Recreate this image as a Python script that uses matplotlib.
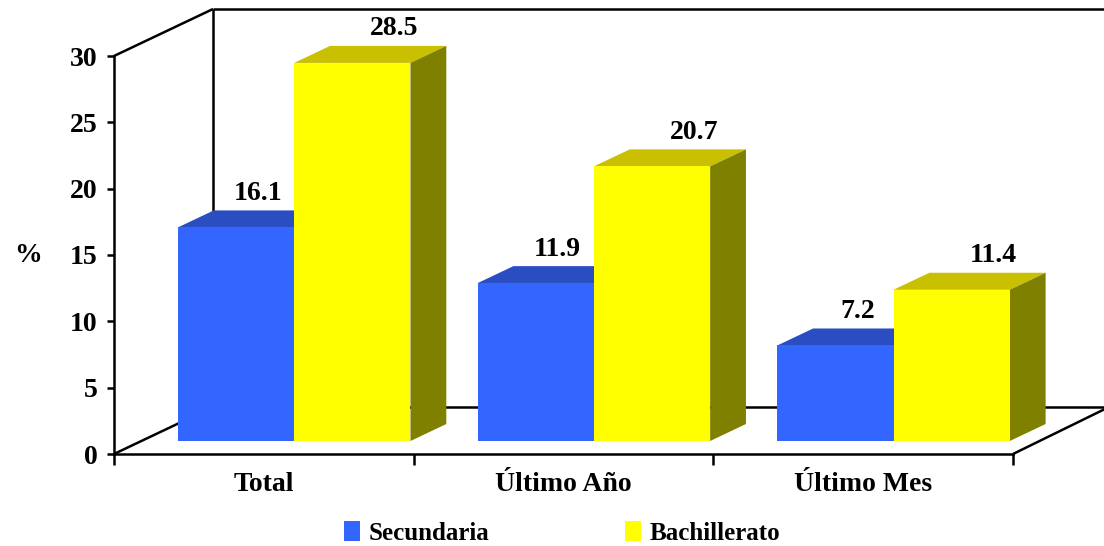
import matplotlib
matplotlib.use("Agg")
import matplotlib.pyplot as plt
from matplotlib.patches import Polygon, Patch
import numpy as np

categories = ["Total", "Último Año", "Último Mes"]
secundaria = [16.1, 11.9, 7.2]
bachillerato = [28.5, 20.7, 11.4]
series_names = ["Secundaria", "Bachillerato"]
yticks = [0, 5, 10, 15, 20, 25, 30]

W, H = 1104, 546
fig = plt.figure(figsize=(W / 100, H / 100), dpi=100)
plt.rcParams['font.family'] = ['Liberation Serif', 'DejaVu Serif']
plt.rcParams['font.weight'] = 'bold'

# axes region in pixels: x 114..1013, y 454 (0) .. 56 (30)
x0p, x1p, y0p, y1p = 114, 1013, 454, 56
ax = fig.add_axes([x0p / W, 1 - y0p / H, (x1p - x0p) / W, (y0p - y1p) / H])
ax.set_xlim(0, 3)
ax.set_ylim(0, 30)

# depth in data units
px_x = (x1p - x0p) / 3.0
px_y = (y0p - y1p) / 30.0
dx = 99 / px_x
dy = 47 / px_y

lw = 1.8
kw = dict(color="black", lw=lw, clip_on=False, zorder=1, solid_capstyle="butt")
# walls / floor
ax.plot([0, dx], [30, 30 + dy], **kw)
ax.plot([dx, 3 + dx + 0.2], [30 + dy, 30 + dy], **kw)
ax.plot([dx, dx], [dy, 30 + dy], **kw)
ax.plot([0, dx], [0, dy], **kw)
ax.plot([dx, 3 + dx - 0.01], [dy, dy], **kw)
ax.plot([3, 3 + dx - 0.01], [0, dy], **kw)

# bars
f0, f1 = 13 / 47, 30 / 47
sx0, sy0 = f0 * dx, f0 * dy
sx1, sy1 = f1 * dx, f1 * dy
bw = 0.388
colors = [("#3366FF", "#2A4EC2", "#1F3A90"), ("#FFFF00", "#C8C000", "#808000")]
label_dx = [22 / px_x, 42 / px_x]

for s, vals in enumerate([secundaria, bachillerato]):
    front, top, side = colors[s]
    for i, v in enumerate(vals):
        xl = i + 0.5 - bw + s * bw + 0.01
        xr = xl + bw
        z = 5 + i * 3 + s
        ax.add_patch(Polygon([(xl + sx0, v + sy0), (xr + sx0, v + sy0),
                              (xr + sx1, v + sy1), (xl + sx1, v + sy1)],
                             closed=True, fc=top, ec="none", zorder=z, clip_on=False))
        ax.add_patch(Polygon([(xr + sx0, sy0), (xr + sx1, sy1),
                              (xr + sx1, v + sy1), (xr + sx0, v + sy0)],
                             closed=True, fc=side, ec="none", zorder=z, clip_on=False))
        ax.add_patch(Polygon([(xl + sx0, sy0), (xr + sx0, sy0),
                              (xr + sx0, v + sy0), (xl + sx0, v + sy0)],
                             closed=True, fc=front, ec="none", zorder=z, clip_on=False))
        ax.text((xl + xr) / 2 + sx0 + label_dx[s], v + sy1 + 17 / px_y, f"{v:.1f}",
                ha="center", va="center", fontsize=20, fontweight="bold", zorder=20)

# spines and ticks
for sp in ["top", "right"]:
    ax.spines[sp].set_visible(False)
for sp in ["left", "bottom"]:
    ax.spines[sp].set_linewidth(lw)
    ax.spines[sp].set_zorder(2)
ax.set_facecolor("none")
ax.set_yticks(yticks)
ax.set_yticklabels([str(t) for t in yticks], fontsize=20, fontweight="bold")
ax.tick_params(axis="y", length=5, width=lw, pad=7)
ax.set_xticks([0, 1, 2, 3])
ax.set_xticklabels([])
ax.tick_params(axis="x", which="major", length=8, width=lw, direction="out")
ax.set_xticks([0.5, 1.5, 2.5], minor=True)
ax.set_xticklabels(categories, minor=True, fontsize=20, fontweight="bold")
ax.tick_params(axis="x", which="minor", length=0, pad=13)
ax.set_ylabel("%", fontsize=20, fontweight="bold", rotation=0, labelpad=30, va="center")

handles = [Patch(fc=colors[0][0], ec="none"), Patch(fc=colors[1][0], ec="none")]
fig.legend(handles, series_names, loc="center", bbox_to_anchor=(562 / W, 1 - 533 / H),
           ncol=2, frameon=False, prop=dict(size=18, weight="bold"),
           handlelength=0.65, handleheight=0.8, handletextpad=0.35, columnspacing=5.4)

fig.savefig("out.png", dpi=100)
